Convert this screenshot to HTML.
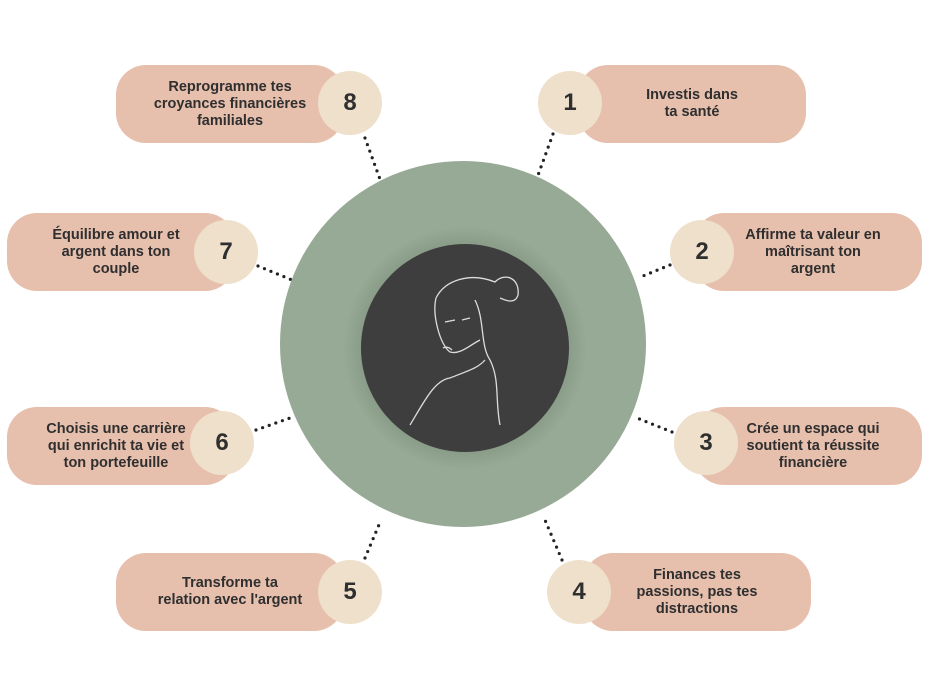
<!DOCTYPE html>
<html><head><meta charset="utf-8"><style>
body{margin:0;width:930px;height:695px;background:#fff;position:relative;overflow:hidden;font-family:"Liberation Sans",sans-serif}
.p{position:absolute;width:228px;height:78px;background:#e6bfad;border-radius:30px;display:flex;align-items:center;justify-content:center;text-align:center;font-weight:bold;font-size:14.5px;line-height:17px;color:#2f2f2f}
.c{position:absolute;width:64px;height:64px;border-radius:50%;background:#efe0cb;display:flex;align-items:center;justify-content:center;font-weight:bold;font-size:24px;color:#2f2f2f}
</style></head><body>
<svg width="930" height="695" style="position:absolute;left:0;top:0">
<g stroke="#222" stroke-width="3.2" stroke-linecap="round" stroke-dasharray="0 7">
<line x1="553" y1="134" x2="537" y2="178"/><line x1="365" y1="138" x2="381" y2="182"/>
<line x1="258" y1="266" x2="292" y2="280"/><line x1="670" y1="265" x2="638" y2="278"/>
<line x1="256" y1="430" x2="290" y2="418"/><line x1="672" y1="432" x2="637" y2="418"/>
<line x1="365" y1="558" x2="381" y2="520"/><line x1="562" y1="560" x2="545" y2="520"/>
</g>
<defs><radialGradient id="g"><stop offset="0.78" stop-color="#6f8270"/><stop offset="1" stop-color="#97aa95"/></radialGradient></defs>
<circle cx="463" cy="344" r="183" fill="#97aa95"/>
<circle cx="465" cy="348" r="122" fill="url(#g)" opacity="0.5"/>
<circle cx="465" cy="348" r="104" fill="#3e3e3e"/>
<g fill="none" stroke="#ddd" stroke-width="1.3">
<path d="M436 298 C445 280 470 272 495 282 C505 272 520 278 518 295 C515 305 505 300 500 298"/>
<path d="M436 298 C432 315 440 345 450 352 C460 355 470 345 480 340"/>
<path d="M475 300 C485 320 480 345 490 360 C500 380 495 400 500 425"/>
<path d="M450 378 C470 370 478 368 485 360"/>
<path d="M450 378 C435 380 425 400 410 425"/>
<path d="M445 322 L455 320 M462 320 L470 318"/>
<path d="M443 348 C447 346 450 348 452 350"/>
</g>
</svg>
<div class="p" style="left:578px;top:65px">Investis dans<br>ta santé</div>
<div class="c" style="left:538px;top:71px">1</div>
<div class="p" style="left:694px;top:213px;padding-left:10px;box-sizing:border-box">Affirme ta valeur en<br>maîtrisant ton<br>argent</div>
<div class="c" style="left:670px;top:220px">2</div>
<div class="p" style="left:694px;top:407px;padding-left:10px;box-sizing:border-box">Crée un espace qui<br>soutient ta réussite<br>financière</div>
<div class="c" style="left:674px;top:411px">3</div>
<div class="p" style="left:583px;top:553px">Finances tes<br>passions, pas tes<br>distractions</div>
<div class="c" style="left:547px;top:560px">4</div>
<div class="p" style="left:116px;top:553px">Transforme ta<br>relation avec l'argent</div>
<div class="c" style="left:318px;top:560px">5</div>
<div class="p" style="left:7px;top:407px;padding-right:10px;box-sizing:border-box">Choisis une carrière<br>qui enrichit ta vie et<br>ton portefeuille</div>
<div class="c" style="left:190px;top:411px">6</div>
<div class="p" style="left:7px;top:213px;padding-right:10px;box-sizing:border-box">Équilibre amour et<br>argent dans ton<br>couple</div>
<div class="c" style="left:194px;top:220px">7</div>
<div class="p" style="left:116px;top:65px">Reprogramme tes<br>croyances financières<br>familiales</div>
<div class="c" style="left:318px;top:71px">8</div>
</body></html>
